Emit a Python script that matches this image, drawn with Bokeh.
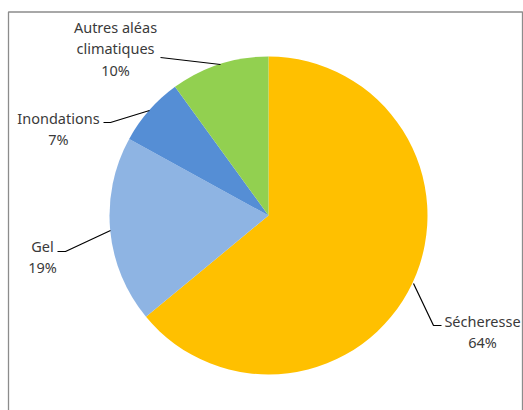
import math
from bokeh.plotting import figure
from bokeh.models import Range1d, ColumnDataSource
from bokeh.core.properties import value
from bokeh.embed import file_html
from bokeh.resources import INLINE

# data
categories = ["Sécheresse", "Gel", "Inondations", "Autres aléas\nclimatiques"]
shares = [64, 19, 7, 10]
colors = ["#FFC000", "#8EB4E3", "#558ED5", "#92D050"]

W, H = 523, 410
def sy(y):
    return H - y

p = figure(width=W, height=H, output_backend="svg", toolbar_location=None,
           x_range=Range1d(0, W), y_range=Range1d(0, H), min_border=0)
p.axis.visible = False
p.grid.visible = False
p.outline_line_color = None
p.background_fill_color = "white"
p.border_fill_color = "white"

# frame
p.multi_line(xs=[[8, 8, 522, 522]], ys=[[sy(420), sy(11.5), sy(11.5), sy(420)]],
             line_color="#8c8c8c", line_width=1.3)

# pie (starts at 12 o'clock, clockwise)
cx, cy, r = 268, sy(215), 159
total = sum(shares)
starts, ends = [], []
a = math.pi / 2
for s in shares:
    b = a - 2 * math.pi * s / total
    starts.append(b)
    ends.append(a)
    a = b
src = ColumnDataSource(dict(start=starts, end=ends, color=colors))
p.wedge(x=cx, y=cy, radius=r, start_angle="start", end_angle="end",
        fill_color="color", line_color=None, source=src)

# leader lines (layout)
leaders_x = [[413, 433, 441], [57, 65, 110], [103, 110, 149], [160, 220]]
leaders_y = [[283, 325, 325], [251, 251, 230], [122, 122, 110], [57, 64]]
p.multi_line(xs=leaders_x, ys=[[sy(v) for v in ys] for ys in leaders_y],
             line_color="black", line_width=1.2)

# labels (layout)
label_pos = [(482, 320), (42, 245), (58, 117), (115, 26)]
lx, ly, lt = [], [], []
for cat, s, (x, y) in zip(categories, shares, label_pos):
    lines = cat.split("\n") + [f"{s}%"]
    for i, t in enumerate(lines):
        lx.append(x)
        ly.append(sy(y + i * 21.5))
        lt.append(t)
p.text(x=lx, y=ly, text=lt, text_align="center", text_baseline="middle",
       text_font=value("Noto Sans"), text_font_size="14.5px", text_color="#3a3a3a")

open("out.html", "w").write(file_html(p, INLINE))
